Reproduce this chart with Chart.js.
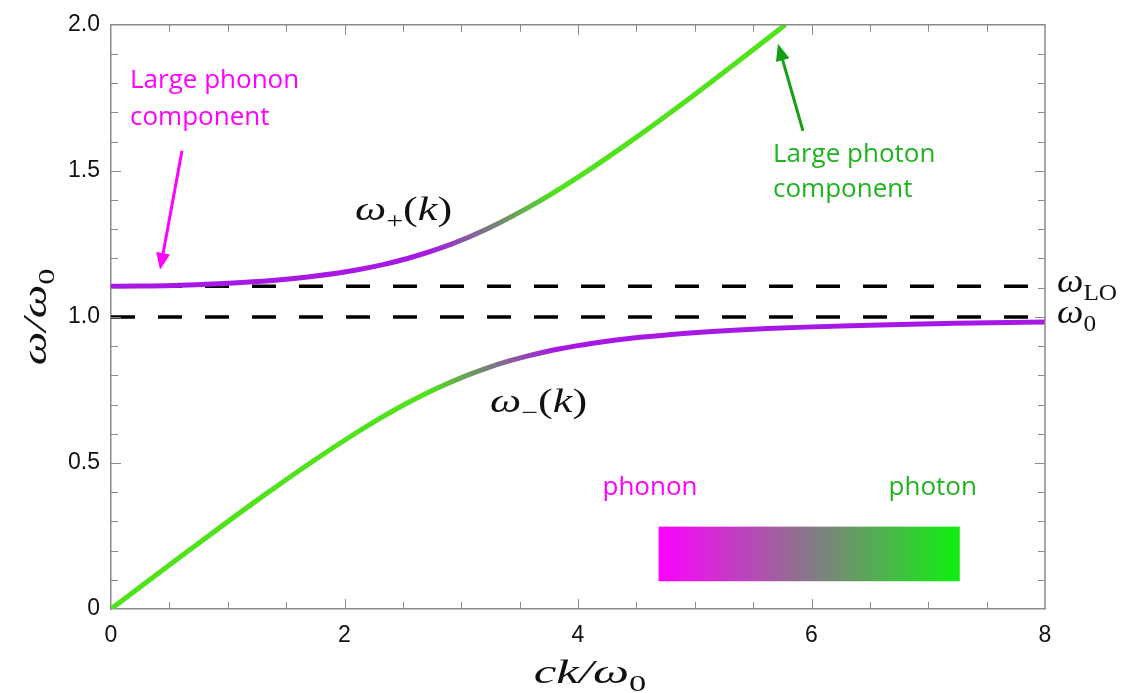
<!DOCTYPE html>
<html lang="en">
<head>
<meta charset="UTF-8">
<title>Phonon polariton dispersion</title>
<style>
  html, body { margin: 0; padding: 0; background: #fff; }
</style>
</head>
<body>
<canvas id="myChart" width="1130" height="693"></canvas>

<script src="https://cdn.jsdelivr.net/npm/chart.js"></script>
<script>
// lower polariton branch  w-(k)
const lowerK = [0, 0.332, 0.666, 1.003, 1.349, 1.707, 2.088, 2.293, 2.514, 2.760, 3.049, 3.219, 3.418, 3.556, 3.714, 3.835, 3.971, 4.127, 4.310, 4.530, 4.801, 5.151, 5.369, 5.628, 5.943, 6.335, 6.845, 7.234, 7.542, 8.0];
const lowerW = [0, 0.10, 0.20, 0.30, 0.40, 0.50, 0.60, 0.65, 0.70, 0.75, 0.80, 0.825, 0.85, 0.865, 0.88, 0.89, 0.90, 0.91, 0.92, 0.93, 0.94, 0.95, 0.955, 0.96, 0.965, 0.97, 0.975, 0.978, 0.98, 0.9825];

// upper polariton branch  w+(k)
const upperK = [0, 0.237, 0.332, 0.467, 0.728, 1.011, 1.217, 1.523, 1.752, 2.090, 2.340, 2.540, 2.922, 3.215, 3.685, 4.083, 4.447, 4.793, 5.127, 5.453, 5.775];
const upperW = [1.105, 1.1055, 1.106, 1.107, 1.11, 1.115, 1.12, 1.13, 1.14, 1.16, 1.18, 1.20, 1.25, 1.30, 1.40, 1.50, 1.60, 1.70, 1.80, 1.90, 2.00];

// reference levels
const omegaLO = 1.105;
const omega0 = 1.0;
const levelK = [0, 8];

const xTickStep = 2;
const yTickStep = 0.5;

const purple = 'rgb(168,24,228)';
const grey = 'rgb(122,124,128)';
const green = 'rgb(80,226,26)';

function branchGradient(chart, phononFirst) {
    const area = chart.chartArea;
    if (!area) return phononFirst ? purple : green;
    const xs = chart.scales.x;
    const g = chart.ctx.createLinearGradient(xs.getPixelForValue(2.7), 0, xs.getPixelForValue(3.8), 0);
    g.addColorStop(0, phononFirst ? purple : green);
    g.addColorStop(0.5, grey);
    g.addColorStop(1, phononFirst ? green : purple);
    return g;
}

function pts(xs, ys) {
    return xs.map((x, i) => ({ x: x, y: ys[i] }));
}

// draw a run of text pieces: [text, font, dy]
function drawRuns(ctx, runs, x, y, align, sx) {
    sx = sx || 1;
    let w = 0;
    runs.forEach(r => { ctx.font = r[1]; w += ctx.measureText(r[0]).width; });
    ctx.save();
    ctx.translate(x, y);
    ctx.scale(sx, 1);
    let cx = align === 'center' ? -w / 2 : 0;
    ctx.textAlign = 'left';
    ctx.textBaseline = 'alphabetic';
    runs.forEach(r => {
        ctx.font = r[1];
        ctx.fillText(r[0], cx, r[2] || 0);
        cx += ctx.measureText(r[0]).width;
    });
    ctx.restore();
}

function arrow(ctx, x1, y1, x2, y2, color, lw, head) {
    const a = Math.atan2(y2 - y1, x2 - x1);
    const bx = x2 - head * Math.cos(a), by = y2 - head * Math.sin(a);
    ctx.save();
    ctx.strokeStyle = color;
    ctx.fillStyle = color;
    ctx.lineWidth = lw;
    ctx.beginPath();
    ctx.moveTo(x1, y1);
    ctx.lineTo(bx, by);
    ctx.stroke();
    ctx.beginPath();
    ctx.moveTo(x2, y2);
    ctx.lineTo(bx + 7 * Math.sin(a), by - 7 * Math.cos(a));
    ctx.lineTo(bx - 7 * Math.sin(a), by + 7 * Math.cos(a));
    ctx.closePath();
    ctx.fill();
    ctx.restore();
}

const mathI = 'italic 34px "Liberation Serif"';
const mathR = '34px "Liberation Serif"';
const mathS = '23px "Liberation Serif"';
const note = '26px "Open Sans"';

const decor = {
    id: 'decor',
    afterDraw(chart) {
        const ctx = chart.ctx;
        const xs = chart.scales.x, ys = chart.scales.y;
        const a = chart.chartArea;
        const px = v => xs.getPixelForValue(v);
        const py = v => ys.getPixelForValue(v);

        // frame (top and right) and inward ticks
        ctx.save();
        ctx.strokeStyle = '#8a8a8a';
        ctx.lineWidth = 1.5;
        ctx.beginPath();
        ctx.moveTo(a.left, a.top); ctx.lineTo(a.right, a.top); ctx.lineTo(a.right, a.bottom);
        ctx.stroke();
        ctx.lineWidth = 1;
        ctx.beginPath();
        for (let i = 1; i < 16; i++) {
            const v = i * 0.5, x = Math.round(px(v)) + 0.5;
            const len = (i % 4 === 0) ? 10 : 7;
            ctx.moveTo(x, a.bottom); ctx.lineTo(x, a.bottom - len);
            ctx.moveTo(x, a.top); ctx.lineTo(x, a.top + len);
        }
        for (let i = 1; i < 20; i++) {
            const v = i * 0.1, y = Math.round(py(v)) + 0.5;
            const len = (i % 5 === 0) ? 10 : 7;
            ctx.moveTo(a.left, y); ctx.lineTo(a.left + len, y);
            ctx.moveTo(a.right, y); ctx.lineTo(a.right - len, y);
        }
        ctx.stroke();
        ctx.restore();

        // phonon / photon colour bar
        const bx1 = px(4.69), bx2 = px(7.27), by1 = py(0.282), by2 = py(0.095);
        const g = ctx.createLinearGradient(bx1, 0, bx2, 0);
        g.addColorStop(0, '#ff00ff');
        g.addColorStop(1, '#10f010');
        ctx.fillStyle = g;
        ctx.fillRect(bx1, by1, bx2 - bx1, by2 - by1);

        ctx.fillStyle = '#ff00ff';
        ctx.font = note;
        ctx.textAlign = 'left';
        ctx.textBaseline = 'alphabetic';
        ctx.fillText('phonon', px(4.21), 495);
        ctx.fillText('Large phonon', px(0.163), 88);
        ctx.fillText('component', px(0.163), 125);
        ctx.fillStyle = '#1fb41f';
        ctx.fillText('photon', px(6.66), 495);
        ctx.fillText('Large photon', px(5.67), 162);
        ctx.fillText('component', px(5.67), 197);

        arrow(ctx, px(0.608), py(1.569), px(0.42), py(1.161), '#ff00ff', 3, 17);
        arrow(ctx, px(5.927), py(1.637), px(5.713), py(1.935), '#14a014', 3, 17);

        // curve labels
        ctx.fillStyle = '#111';
        drawRuns(ctx, [['\u03c9', mathI], ['+', mathS, 8], ['(', mathR], ['k', mathI], [')', mathR]], px(2.09), py(1.365) + 10, 'left', 1.3);
        drawRuns(ctx, [['\u03c9', mathI], ['\u2212', mathS, 8], ['(', mathR], ['k', mathI], [')', mathR]], px(3.246), py(0.71) + 10, 'left', 1.3);

        // level labels on the right
        drawRuns(ctx, [['\u03c9', mathI], ['LO', mathS, 8]], a.right + 12, py(omegaLO) + 6, 'left', 1.1);
        drawRuns(ctx, [['\u03c9', mathI], ['0', mathS, 8]], a.right + 12, py(omega0) + 6, 'left', 1.1);

        // axis titles
        drawRuns(ctx, [['ck/', mathI], ['\u03c9', mathI], ['0', mathS, 8]], (a.left + a.right) / 2 + 12, 683, 'center', 1.5);
        ctx.save();
        ctx.translate(46, (a.top + a.bottom) / 2);
        ctx.rotate(-Math.PI / 2);
        drawRuns(ctx, [['\u03c9/', mathI], ['\u03c9', mathI], ['0', mathS, 8]], 0, 0, 'center', 1.4);
        ctx.restore();
    }
};

new Chart(document.getElementById('myChart'), {
    type: 'line',
    data: {
        datasets: [{
            label: 'upper',
            data: pts(upperK, upperW),
            borderColor: ctx => branchGradient(ctx.chart, true),
            borderWidth: 5,
            pointRadius: 0,
            cubicInterpolationMode: 'monotone'
        }, {
            label: 'lower',
            data: pts(lowerK, lowerW),
            borderColor: ctx => branchGradient(ctx.chart, false),
            borderWidth: 5,
            pointRadius: 0,
            cubicInterpolationMode: 'monotone'
        }, {
            label: 'wLO',
            data: pts(levelK, [omegaLO, omegaLO]),
            borderColor: '#000',
            borderWidth: 3.5,
            borderDash: [24, 23],
            pointRadius: 0
        }, {
            label: 'w0',
            data: pts(levelK, [omega0, omega0]),
            borderColor: '#000',
            borderWidth: 3.5,
            borderDash: [24, 23],
            pointRadius: 0
        }]
    },
    options: {
        responsive: false,
        animation: false,
        devicePixelRatio: 1,
        layout: { padding: { top: 20, right: 85, left: 0, bottom: 0 } },
        plugins: { legend: { display: false }, tooltip: { enabled: false } },
        scales: {
            x: {
                type: 'linear',
                min: 0,
                max: 8,
                afterFit: s => { s.height = 84; },
                ticks: {
                    stepSize: xTickStep,
                    color: '#111',
                    padding: 13,
                    font: { family: '"Liberation Sans", Arial', size: 23 },
                    maxRotation: 0
                },
                grid: { display: false, drawTicks: false },
                border: { color: '#8a8a8a', width: 1.5 }
            },
            y: {
                type: 'linear',
                min: 0,
                max: 2,
                afterFit: s => { s.width = 111; },
                ticks: {
                    stepSize: yTickStep,
                    color: '#111',
                    padding: 11,
                    font: { family: '"Liberation Sans", Arial', size: 23 },
                    callback: v => v === 0 ? '0' : v.toFixed(1)
                },
                grid: { display: false, drawTicks: false },
                border: { color: '#8a8a8a', width: 1.5 }
            }
        }
    },
    plugins: [decor]
});
</script>
</body>
</html>
